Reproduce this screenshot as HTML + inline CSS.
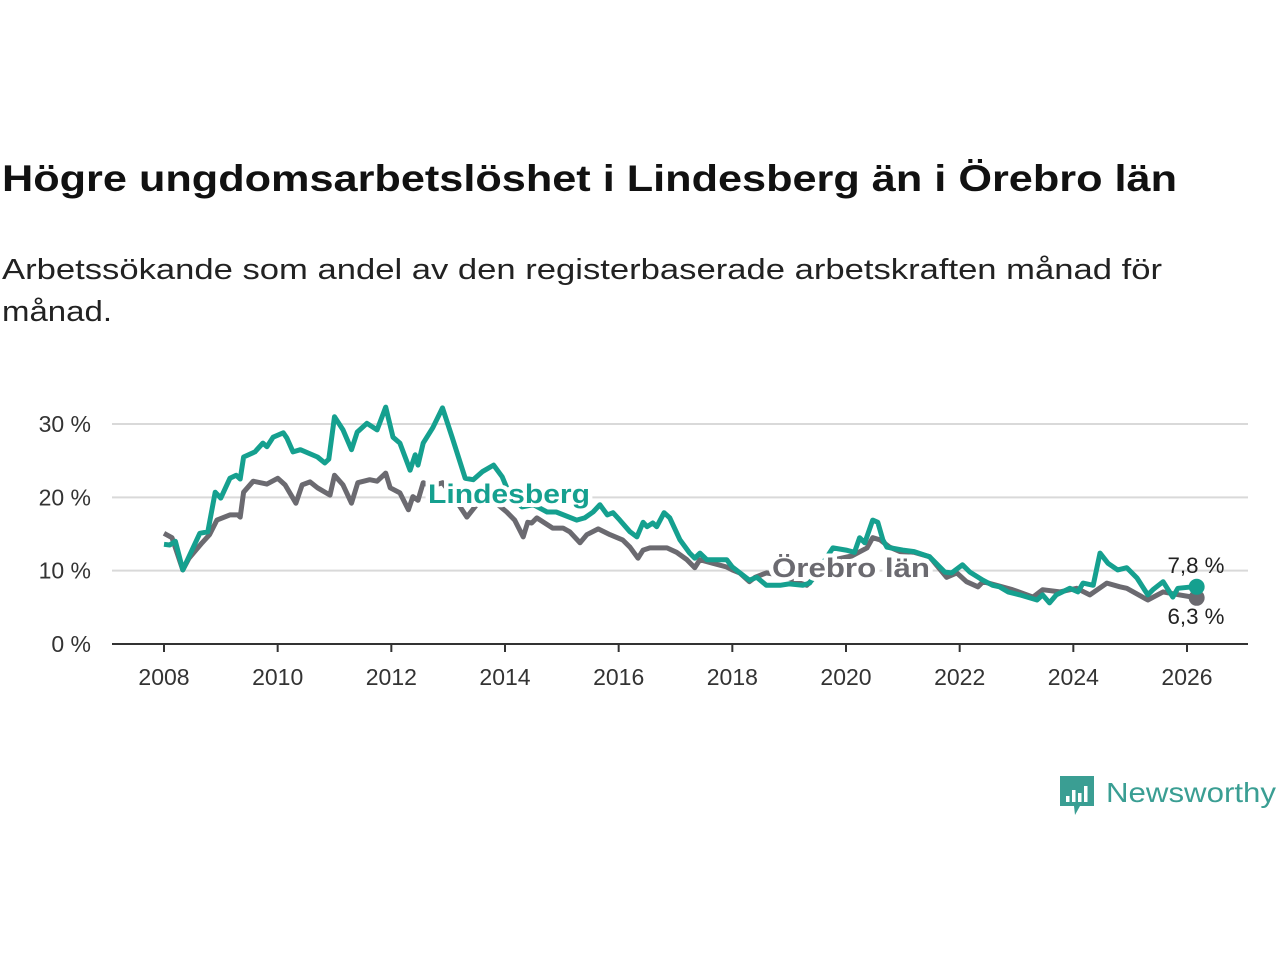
<!DOCTYPE html>
<html><head><meta charset="utf-8"><style>
body{margin:0;background:#fff;}
svg{display:block;font-family:"Liberation Sans","DejaVu Sans",sans-serif;}
</style></head><body>
<svg id="chart" width="1280" height="960" viewBox="0 0 1280 960">
<text x="2" y="191" font-size="37" font-weight="bold" fill="#111" textLength="1175" lengthAdjust="spacingAndGlyphs">Högre ungdomsarbetslöshet i Lindesberg än i Örebro län</text>
<text x="2" y="279" font-size="29" fill="#222" textLength="1160" lengthAdjust="spacingAndGlyphs">Arbetssökande som andel av den registerbaserade arbetskraften månad för</text>
<text x="2" y="321" font-size="29" fill="#222" textLength="110" lengthAdjust="spacingAndGlyphs">månad.</text>
<g id="grid"></g><g id="xaxis"></g><g id="series"></g><g id="labels"></g>
<g>
<path d="M1060 776 h34 v30 h-14 l-5 9 l-1 -9 h-14 z" fill="#3a9e93"/>
<rect x="1066" y="796" width="3.5" height="6" fill="#fff"/><rect x="1072" y="790" width="3.5" height="12" fill="#fff"/><rect x="1078" y="793" width="3.5" height="9" fill="#fff"/><rect x="1084" y="786" width="3.5" height="16" fill="#fff"/>
<text x="1106" y="802" font-size="28" fill="#3a9e93" textLength="170" lengthAdjust="spacingAndGlyphs">Newsworthy</text>
</g>
</svg>
<script>
const yTicks=[0,10,20,30];
const xTicks=[2008,2010,2012,2014,2016,2018,2020,2022,2024,2026];
const lindT=[2008.0,2008.1,2008.2,2008.33,2008.63,2008.77,2008.9,2009.0,2009.16,2009.27,2009.34,2009.4,2009.6,2009.74,2009.81,2009.92,2010.1,2010.16,2010.27,2010.4,2010.7,2010.83,2010.9,2011.0,2011.15,2011.3,2011.4,2011.57,2011.75,2011.9,2012.03,2012.15,2012.33,2012.42,2012.47,2012.56,2012.73,2012.9,2013.07,2013.3,2013.44,2013.6,2013.8,2013.95,2014.1,2014.3,2014.5,2014.74,2014.9,2015.26,2015.4,2015.55,2015.67,2015.8,2015.9,2016.02,2016.2,2016.32,2016.43,2016.5,2016.6,2016.67,2016.8,2016.9,2017.08,2017.25,2017.34,2017.43,2017.55,2017.9,2018.0,2018.3,2018.43,2018.6,2018.84,2019.0,2019.24,2019.36,2019.55,2019.77,2020.0,2020.15,2020.24,2020.33,2020.47,2020.56,2020.65,2020.72,2021.0,2021.2,2021.47,2021.74,2021.86,2022.05,2022.18,2022.41,2022.58,2022.7,2022.85,2023.06,2023.36,2023.46,2023.58,2023.7,2023.94,2024.08,2024.17,2024.35,2024.47,2024.61,2024.78,2024.94,2025.12,2025.31,2025.4,2025.58,2025.75,2025.84,2026.1,2026.17];
const lindV=[13.6,13.5,14,10.1,15.1,15.3,20.7,19.9,22.6,23,22.5,25.5,26.2,27.4,26.9,28.2,28.8,28.1,26.2,26.5,25.5,24.7,25.2,31,29.2,26.5,28.9,30.1,29.2,32.3,28.2,27.4,23.7,25.8,24.4,27.4,29.5,32.2,28.2,22.6,22.4,23.5,24.4,22.8,20,18.7,19,18,18,16.9,17.2,18,19,17.6,17.9,16.9,15.3,14.6,16.6,16,16.5,16,17.9,17.2,14.2,12.4,11.7,12.4,11.5,11.5,10.5,8.7,9.1,8,8,8.2,8,8.3,10.5,13.1,12.8,12.5,14.5,13.8,16.9,16.6,14.2,13.2,12.8,12.6,11.9,9.8,9.7,10.8,9.8,8.7,8,7.8,7.1,6.7,6,6.7,5.6,6.7,7.6,7.1,8.3,8,12.4,11,10.1,10.4,9,6.7,7.4,8.5,6.4,7.6,7.8,7.8];
const oreT=[2008.0,2008.14,2008.33,2008.44,2008.67,2008.8,2008.93,2009.16,2009.3,2009.34,2009.4,2009.57,2009.81,2010.0,2010.13,2010.32,2010.43,2010.57,2010.7,2010.92,2011.0,2011.15,2011.3,2011.41,2011.62,2011.75,2011.9,2011.98,2012.15,2012.3,2012.38,2012.47,2012.56,2012.7,2012.9,2013.1,2013.33,2013.5,2013.8,2014.03,2014.17,2014.32,2014.4,2014.47,2014.56,2014.84,2015.02,2015.14,2015.32,2015.44,2015.64,2015.85,2016.07,2016.2,2016.34,2016.43,2016.55,2016.85,2017.02,2017.2,2017.34,2017.43,2017.66,2017.9,2018.0,2018.13,2018.3,2018.4,2018.6,2018.9,2019.19,2019.31,2019.5,2019.8,2020.1,2020.37,2020.47,2020.6,2020.77,2020.95,2021.2,2021.47,2021.77,2021.95,2022.12,2022.32,2022.41,2022.65,2022.93,2023.29,2023.46,2023.76,2024.06,2024.29,2024.59,2024.82,2024.94,2025.31,2025.58,2025.87,2026.1,2026.17];
const oreV=[15.1,14.5,10.1,11.7,13.8,14.9,16.9,17.6,17.6,17.3,20.7,22.2,21.8,22.6,21.7,19.2,21.7,22.1,21.3,20.3,23,21.7,19.2,22,22.4,22.2,23.3,21.3,20.6,18.3,20.1,19.6,22,21.5,22,20,17.3,19,19.5,18,16.9,14.6,16.6,16.5,17.2,15.8,15.8,15.3,13.8,14.9,15.7,14.9,14.2,13.2,11.7,12.8,13.1,13.1,12.5,11.5,10.4,11.5,11,10.5,10.1,9.7,8.5,9.1,9.7,9.3,8.3,8,9.5,11.5,12,13.1,14.5,14.2,13.2,12.6,12.5,11.9,9.1,9.7,8.5,7.8,8.5,8,7.4,6.4,7.4,7.1,7.6,6.7,8.3,7.8,7.6,6,7.1,6.7,6.4,6.3];
const NS="http://www.w3.org/2000/svg";
const X0=112,X1=1248;
function xs(t){return 164+(t-2008)*(1187-164)/18;}
function ys(v){return 644-v*(644-424)/30;}
function mk(tag,attrs,parent){const e=document.createElementNS(NS,tag);for(const k in attrs)e.setAttribute(k,attrs[k]);parent.appendChild(e);return e;}
const grid=document.getElementById('grid');
yTicks.forEach(v=>{
 if(v>0){const l=mk('line',{x1:X0,x2:X1,y1:ys(v),y2:ys(v),stroke:'#d9d9d9','stroke-width':2},grid);
 
 }
 const t=mk('text',{x:91,y:ys(v)+8,'text-anchor':'end','font-size':23,fill:'#333'},grid);
 t.textContent=v+' %';
 
 
});
const xa=document.getElementById('xaxis');
const ax=mk('line',{x1:X0,x2:X1,y1:644,y2:644,stroke:'#333','stroke-width':2},xa);


xTicks.forEach(y=>{
 mk('line',{x1:xs(y),x2:xs(y),y1:644,y2:652,stroke:'#333','stroke-width':2},xa);
 const t=mk('text',{x:xs(y),y:685,'text-anchor':'middle','font-size':23,fill:'#333'},xa);
 t.textContent=y;
 
 
});
const sg=document.getElementById('series');
function line(T,V,col,name){
 const d=T.map((t,i)=>(i?'L':'M')+xs(t).toFixed(1)+' '+ys(V[i]).toFixed(1)).join(' ');
 const p=mk('path',{d:d,fill:'none',stroke:col,'stroke-width':5,'stroke-linejoin':'round'},sg);
 
 
 const n=T.length-1;
 const c=mk('circle',{cx:xs(T[n]),cy:ys(V[n]),r:8,fill:col},sg);
 
 
}
line(oreT,oreV,'#6b6a70','orebro-line');
line(lindT,lindV,'#15a08f','lindesberg-line');
const lg=document.getElementById('labels');
function lab(x,y,txt,col,name,bold,anchor,w){
 const t=mk('text',{x:x,y:y,'font-size':bold?27:22,'font-weight':bold?'bold':'normal',fill:col,stroke:'#fff','stroke-width':bold?8:0,'paint-order':'stroke','text-anchor':anchor||'start',textLength:w,lengthAdjust:'spacingAndGlyphs'},lg);
 t.textContent=txt;
 
 
}
lab(428,503,'Lindesberg','#15a08f','lindesberg-label',true,'start',162);
lab(772,577,'Örebro län','#6b6a70','orebro-label',true,'start',158);
lab(1196,573,'7,8 %','#222','lindesberg-end-value',false,'middle',57);
lab(1196,624,'6,3 %','#222','orebro-end-value',false,'middle',57);
</script>
</body></html>
